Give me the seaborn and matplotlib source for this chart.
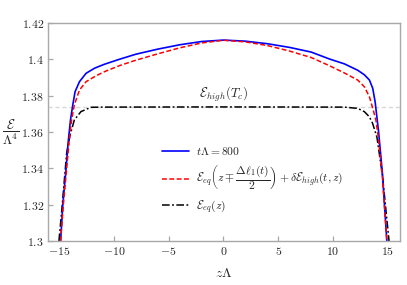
import matplotlib
matplotlib.use("Agg")
import matplotlib.pyplot as plt
import seaborn as sns
import pandas as pd
from matplotlib.ticker import FuncFormatter
from matplotlib.lines import Line2D

# ---- data ----
z_blue = [-14.85, -14.65, -14.35, -14.15, -13.95, -13.74, -13.53, -13.13, -12.53, -11.76,
          -10.85, -9.5, -8.0, -6.0, -4.0, -2.0, 0.0, 2.0, 4.0, 6.0, 8.0, 9.66, 11.03,
          12.24, 12.85, 13.31, 13.61, 13.83, 13.97, 14.15, 14.5, 14.9]
e_blue = [1.300, 1.320, 1.340, 1.355, 1.3666, 1.3749, 1.3822, 1.3877, 1.3923, 1.3951,
          1.3973, 1.4000, 1.4028, 1.4056, 1.4080, 1.4098, 1.4106, 1.4100, 1.4086, 1.4066,
          1.4040, 1.4002, 1.3975, 1.3940, 1.3915, 1.3886, 1.3841, 1.3767, 1.3694, 1.3600,
          1.3370, 1.300]

z_red = [-14.85, -14.6, -14.3, -14.05, -13.85, -13.6, -13.13, -12.53, -11.6, -10.85,
         -9.5, -8.0, -6.0, -4.0, -2.0, 0.0, 2.0, 4.0, 6.0, 8.0, 9.66, 11.03, 12.24,
         12.85, 13.31, 13.7, 13.9, 14.1, 14.5, 14.9]
e_red = [1.300, 1.320, 1.340, 1.356, 1.3666, 1.3749, 1.3831, 1.3877, 1.3910, 1.3932,
         1.3965, 1.3995, 1.4030, 1.4063, 1.4090, 1.4105, 1.4096, 1.4076, 1.4046, 1.4010,
         1.3965, 1.3925, 1.3886, 1.3849, 1.3794, 1.3712, 1.3666, 1.3580, 1.3350, 1.300]

z_black = [-15.0, -14.7, -14.3, -14.0, -13.6, -13.0, -12.1, -11.0, 0.0, 11.0,
           12.24, 12.85, 13.3, 13.6, 14.0, 14.5, 15.1]
e_black = [1.300, 1.320, 1.3484, 1.3580, 1.3666, 1.3712, 1.3736, 1.3737, 1.3738, 1.3737,
           1.3730, 1.3712, 1.3684, 1.3648, 1.3570, 1.3360, 1.300]

e_high_Tc = 1.3738
x_ticks = [-15, -10, -5, 0, 5, 10, 15]
y_ticks = [1.30, 1.32, 1.34, 1.36, 1.38, 1.40, 1.42]

labels = [r"$t\Lambda = 800$",
          r"$\mathcal{E}_{eq}\left(z \mp \dfrac{\Delta\ell_1(t)}{2}\right) + \delta\mathcal{E}_{high}(t,z)$",
          r"$\mathcal{E}_{eq}(z)$"]

# ---- plotting ----
sns.set_style("ticks")
plt.rcParams["mathtext.fontset"] = "cm"
plt.rcParams["font.family"] = ["DejaVu Serif"]

fig = plt.figure(figsize=(4.07, 2.85), dpi=100)
ax = fig.add_axes([48/407, 1-241/285, 352/407, 218/285])

ax.axhline(e_high_Tc, color="#d8d8d8", lw=1.0, ls=(0, (3, 2)), zorder=1)

df_b = pd.DataFrame({"z": z_blue, "e": e_blue})
df_r = pd.DataFrame({"z": z_red, "e": e_red})
df_k = pd.DataFrame({"z": z_black, "e": e_black})

sns.lineplot(data=df_k, x="z", y="e", ax=ax, color="black", lw=1.1, sort=False,
             estimator=None)
ax.lines[-1].set_dashes([5, 1.6, 1.2, 1.6])
sns.lineplot(data=df_b, x="z", y="e", ax=ax, color="#0000ff", lw=1.2, sort=False,
             estimator=None)
sns.lineplot(data=df_r, x="z", y="e", ax=ax, color="#ff0000", lw=1.1, sort=False,
             estimator=None)
ax.lines[-1].set_dashes([3.2, 1.6])
for ln in ax.lines:
    ln.set_solid_joinstyle("round")
    ln.set_dash_joinstyle("round")

ax.set_xlim(-16, 16.1)
ax.set_ylim(1.3, 1.42)
ax.set_xticks(x_ticks)
ax.set_yticks(y_ticks)

def fmt(v, pos):
    return "$" + ("%g" % round(v, 4)) + "$"
ax.xaxis.set_major_formatter(FuncFormatter(fmt))
ax.yaxis.set_major_formatter(FuncFormatter(fmt))

for sp in ax.spines.values():
    sp.set_color("#a8a8a8")
    sp.set_linewidth(1.0)
    sp.set_visible(True)
ax.tick_params(axis="both", direction="in", length=3.5, width=0.9, color="#a8a8a8",
               labelsize=8.5, pad=3, top=False, right=False)
ax.set_xlabel("")
ax.set_ylabel("")

fig.text(224/407, 1-273/285, r"$z\Lambda$", ha="center", va="center", fontsize=10)
fig.text(11/407, 1-132/285, r"$\dfrac{\mathcal{E}}{\Lambda^4}$", ha="center", va="center",
         fontsize=9.5)
ax.text(0, 1.3805, r"$\mathcal{E}_{high}(T_c)$", ha="center", va="center", fontsize=9.3)

handles = [Line2D([], [], color="#0000ff", lw=1.2),
           Line2D([], [], color="#ff0000", lw=1.1, dashes=[3.2, 1.6]),
           Line2D([], [], color="black", lw=1.1, dashes=[5, 1.6, 1.2, 1.6])]
leg = ax.legend(handles, labels, loc="center left", bbox_to_anchor=(156/407, 1-180/285),
                bbox_transform=fig.transFigure, frameon=False, fontsize=8.3,
                handlelength=2.4, handletextpad=0.6, labelspacing=0.5, borderpad=0)

fig.savefig("out.png", dpi=100)
